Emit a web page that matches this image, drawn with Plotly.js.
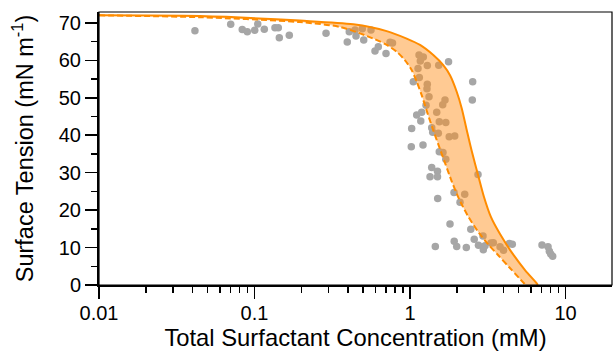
<!DOCTYPE html>
<html>
<head>
<meta charset="utf-8">
<script src="https://cdn.plot.ly/plotly-3.0.1.min.js"></script>
<style>html,body{margin:0;padding:0;background:#fff;}#chart{width:613px;height:351px;}</style>
</head>
<body>
<div id="chart"></div>
<script>
// Measured surface tension (scatter)
const measConc = [0.0414,0.0703,0.0834,0.0899,0.1003,0.1049,0.1156,0.1354,0.1422,0.1444,0.1674,0.2884,
  0.407,0.395,0.4495,0.4429,0.4934,0.5039,0.5613,0.5955,0.6254,0.701,0.7436,0.7716,
  1.050,1.143,1.218,1.165,1.292,1.126,1.148,1.292,1.286,1.530,1.769,2.530,2.516,1.325,1.268,1.679,1.623,1.485,
  1.104,1.189,1.173,1.025,1.379,1.400,1.521,1.543,1.699,1.787,1.939,1.019,1.212,1.543,1.630,1.699,
  1.379,1.502,1.345,1.502,2.737,1.919,2.248,1.507,2.097,1.808,2.460,2.588,2.948,1.924,1.997,2.302,1.455,
  2.757,2.961,3.319,3.434,3.792,3.993,4.350,4.548,7.06,7.72,7.87,8.03,8.27,3.036];
const measTension = [67.9,69.6,68.2,67.6,68.0,69.7,68.3,68.7,68.7,66.0,66.7,67.2,
  67.6,64.9,66.5,68.1,68.4,65.4,68.1,62.5,63.6,61.8,64.8,64.6,
  54.3,61.4,60.9,59.8,58.6,57.8,55.4,53.6,52.4,58.7,59.6,54.3,49.4,50.3,48.0,49.4,48.1,46.1,
  45.4,46.1,43.8,41.8,42.0,40.8,40.5,43.6,43.4,39.6,39.8,36.9,37.4,35.6,35.4,33.6,
  31.4,30.4,28.9,28.9,29.5,24.7,24.2,23.1,22.1,16.3,14.9,12.2,13.1,11.7,10.3,10.0,10.3,
  10.6,9.4,11.2,11.3,10.2,9.3,11.1,10.9,10.7,10.2,9.0,8.3,7.7,10.5];

// Model bounds (lower = dashed, upper = solid)
const lowerConc = [0.01,0.0446,0.196,0.3548,0.5808,0.708,0.821,0.929,1.025,1.104,1.189,1.286,1.395,
  1.525,1.679,1.862,2.066,2.360,2.778,3.174,3.681,4.332,5.099,5.539];
const lowerTension = [72.0,71.5,70.2,68.9,65.8,64.1,62.3,60.0,57.4,54.3,50.7,46.3,41.9,
  37.4,32.6,27.5,23.0,18.4,13.9,10.9,8.0,4.8,1.6,0];
const upperConc = [0.01,0.0446,0.196,0.432,0.708,0.952,1.160,1.412,1.637,1.808,1.997,2.150,2.316,
  2.504,2.750,2.991,3.319,3.792,4.617,5.490,6.53,6.63];
const upperTension = [72.0,71.8,70.6,69.6,67.8,65.8,64.1,61.4,58.7,56.0,51.6,47.2,41.4,
  35.5,29.1,23.5,18.1,13.6,8.1,4.0,0.45,0];

const xTickVals = [0.01, 0.1, 1, 10];
const xTickText = ['0.01', '0.1', '1', '10'];
const yTickVals = [0, 10, 20, 30, 40, 50, 60, 70];

const orange = '#FF8C00';
const fontFam = 'Liberation Sans, Arial, Helvetica, sans-serif';

const traces = [
  {x: measConc, y: measTension, type: 'scatter', mode: 'markers',
   marker: {color: '#A6A6A6', size: 7.5}, hoverinfo: 'skip', showlegend: false},
  {x: lowerConc, y: lowerTension, type: 'scatter', mode: 'lines',
   line: {color: orange, width: 2, dash: '6px,3px', shape: 'spline', smoothing: 0.8}, showlegend: false},
  {x: upperConc, y: upperTension, type: 'scatter', mode: 'lines', fill: 'tonexty',
   fillcolor: 'rgba(255,145,30,0.48)',
   line: {color: orange, width: 2, shape: 'spline', smoothing: 0.8}, showlegend: false}
];

const layout = {
  width: 613, height: 351,
  margin: {l: 99, r: 1, t: 12, b: 66},
  paper_bgcolor: '#fff', plot_bgcolor: '#fff',
  font: {family: fontFam, color: '#000', size: 20},
  xaxis: {
    type: 'log', range: [-2, 1.299], showgrid: false, zeroline: false,
    showline: true, linecolor: '#000', linewidth: 2,
    ticks: 'outside', ticklen: 12, tickwidth: 1.5, tickcolor: '#000',
    ticklabelstandoff: -3,
    tickvals: xTickVals, ticktext: xTickText,
    tickfont: {size: 20, family: fontFam},
    minor: {ticks: 'outside', ticklen: 6, tickwidth: 1.5, tickcolor: '#000', dtick: 'D1', showgrid: false},
    title: {text: 'Total Surfactant Concentration (mM)', font: {size: 23.8, family: fontFam}, standoff: 7}
  },
  yaxis: {
    range: [0, 72.9], showgrid: false, zeroline: false,
    showline: true, linecolor: '#000', linewidth: 2,
    ticks: 'outside', ticklen: 12, tickwidth: 1.5, tickcolor: '#000',
    tickvals: yTickVals,
    tickfont: {size: 20, family: fontFam},
    minor: {ticks: 'outside', ticklen: 6, tickwidth: 1.5, tickcolor: '#000', dtick: 5, showgrid: false},
    title: {text: 'Surface Tension (mN m<sup>-1</sup>)', font: {size: 23.5, family: fontFam}, standoff: 19}
  },
  shapes: [{type: 'rect', xref: 'paper', yref: 'paper', x0: 0, x1: 1, y0: 0, y1: 1,
            line: {color: '#000', width: 1.2}, fillcolor: 'rgba(0,0,0,0)', layer: 'above'}]
};

Plotly.newPlot('chart', traces, layout, {staticPlot: true, displayModeBar: false});
</script>
</body>
</html>
